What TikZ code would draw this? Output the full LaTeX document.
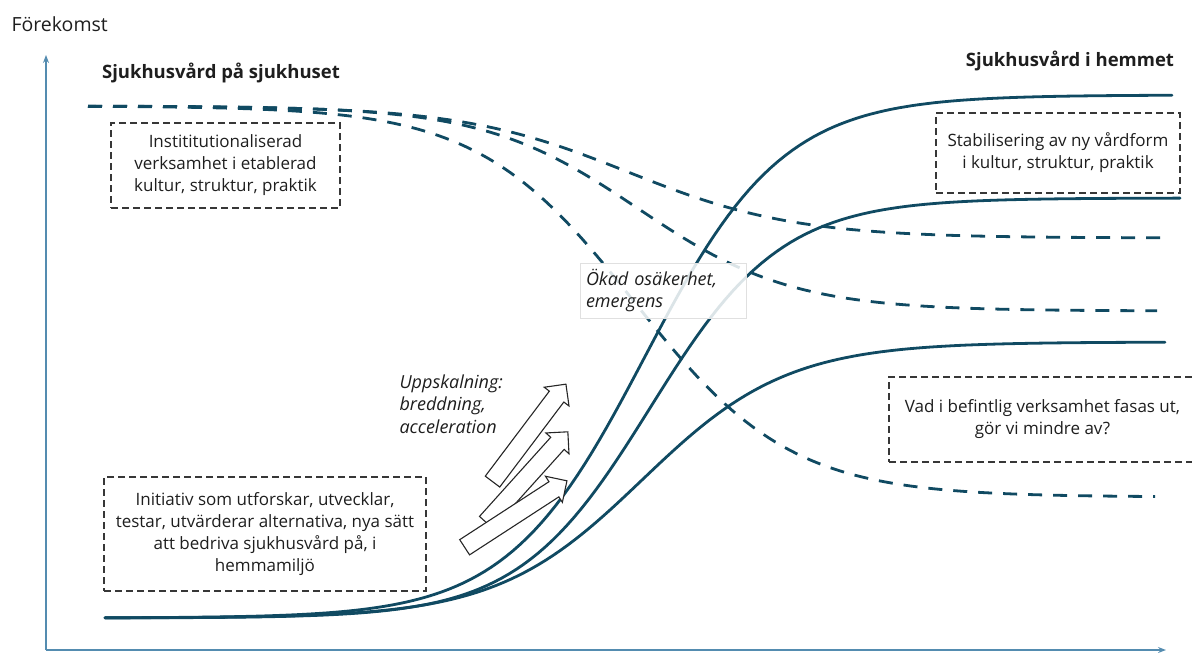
\documentclass[tikz,border=0pt]{standalone}
\usepackage{fontspec}
\setmainfont{Open Sans}
\usetikzlibrary{arrows.meta, positioning, shapes.arrows}
\definecolor{tealdark}{RGB}{16,74,98}
\definecolor{axisblue}{RGB}{84,140,176}
\definecolor{boxgrey}{RGB}{55,55,55}
\definecolor{textgrey}{RGB}{30,30,30}

\begin{document}
\begin{tikzpicture}[
		x=1pt, y=-1pt,
		font=\fontsize{17}{22}\selectfont, text=textgrey,
		% Curve styles
		newcurve/.style={draw=tealdark, line width=2.8pt, line cap=round, samples=150},
		oldcurve/.style={draw=tealdark, line width=2.8pt, dash pattern=on 14pt off 11pt, samples=150},
		% Box styles
		notebox/.style={draw=boxgrey, line width=1.2pt, dash pattern=on 7pt off 4pt, align=center, inner sep=0pt},
		heading/.style={font=\fontsize{18.5}{22}\selectfont\bfseries},
		remark/.style={font=\fontsize{18}{22.5}\selectfont\itshape, align=left},
		axisline/.style={draw=axisblue, line width=1.6pt, -{Stealth[length=8pt, width=6pt]}},
		scalearrow/.style={single arrow, draw=black!85, line width=1.1pt, fill=white, minimum height=122pt, inner xsep=0pt, inner ysep=8.5pt, single arrow head extend=6.5pt}
		]
		\useasboundingbox (0,0) rectangle (1192,653);
		
		% --- AXES ---
		\coordinate (origin) at (46,650);
		\coordinate (ytop) at (46,55);
		\coordinate (xend) at (1166,650);
		\draw[axisline] (origin) -- (ytop);
		\draw[axisline] (origin) -- (xend);
		\node[anchor=west, font=\fontsize{19.5}{24}\selectfont] (yaxis) at (8,24) {Förekomst};
		
		% --- HEADINGS ---
		\node[heading] (hospital) at (221,73) {Sjukhusvård på sjukhuset};
		\node[heading] (home) at (1070,61) {Sjukhusvård i hemmet};
		
		% --- OLD PRACTICE (dashed, fading out) ---
		\draw[oldcurve] plot[domain=88:1160] (\x, {106 + 132/(1+exp(-0.012*(\x-628)))});
		\draw[oldcurve] plot[domain=88:1157] (\x, {106 + 205/(1+exp(-0.013*(\x-638)))});
		\draw[oldcurve] plot[domain=88:1155] (\x, {106 + 391/(1+exp(-0.0128*(\x-634)))});
		
		% --- NEW PRACTICE (solid, S-curves) ---
		\draw[newcurve] plot[domain=105:1172] (\x, {618 - 523/(1+exp(-0.0145*(\x-645)))});
		\draw[newcurve] plot[domain=105:1180] (\x, {618 - 420/(1+exp(-0.0152*(\x-650)))});
		\draw[newcurve] plot[domain=105:1165] (\x, {618 - 276/(1+exp(-0.0138*(\x-642)))});
		
		% --- SCALING ARROWS ---
		\node[scalearrow, rotate=53] (arrowA) at (526.5,436.5) {};
		\node[scalearrow, rotate=48] (arrowB) at (524,480.5) {};
		\node[scalearrow, rotate=33] (arrowC) at (512,516.5) {};
		\node[remark, anchor=west] (scaling) at (396,404) {Uppskalning:\\breddning,\\acceleration};
		
		% --- TEXT BOXES ---
		\node[notebox, minimum width=229pt, minimum height=85pt] (institution) at (225.5,165.5) {Instititutionaliserad\\verksamhet i etablerad\\kultur, struktur, praktik};
		\node[notebox, minimum width=322pt, minimum height=114pt] (initiative) at (265,534) {Initiativ som utforskar, utvecklar,\\testar, utvärderar alternativa, nya sätt\\att bedriva sjukhusvård på, i\\hemmamiljö};
		\node[notebox, minimum width=244pt, minimum height=80pt] (stable) at (1058,153) {Stabilisering av ny vårdform\\i kultur, struktur, praktik};
		\node[notebox, minimum width=307pt, minimum height=85pt] (phaseout) at (1042.5,419.5) {Vad i befintlig verksamhet fasas ut,\\gör vi mindre av?};
		\node[remark, draw=black!12, line width=0.8pt, fill=white, fill opacity=0.85, text opacity=1, minimum width=166pt, minimum height=55pt, text width=154pt] (uncertainty) at (663,290.5) {Ökad osäkerhet,\\emergens};
		
	\end{tikzpicture}
\end{document}
